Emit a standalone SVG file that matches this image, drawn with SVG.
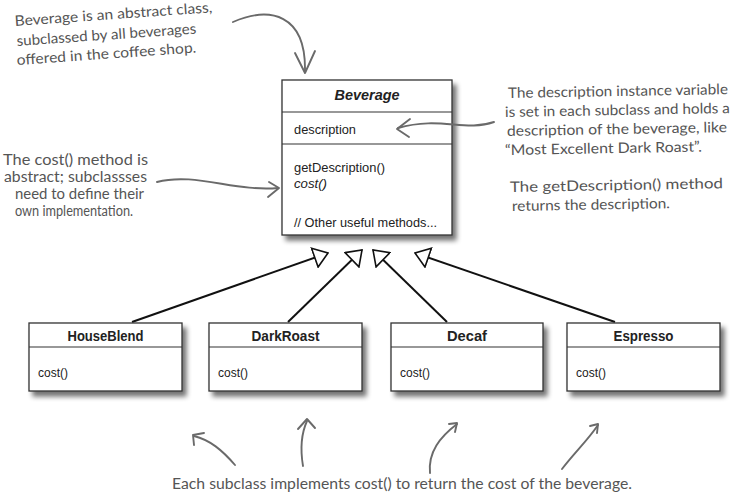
<svg xmlns="http://www.w3.org/2000/svg" width="735" height="494" viewBox="0 0 735 494">
<style>
.box{fill:#fff;stroke:#333;stroke-width:1.3}
.div{stroke:#333;stroke-width:1.2}
.t{font-family:"Liberation Sans",Arial,sans-serif;fill:#222}
.title{font-size:15.5px;font-weight:bold;text-anchor:middle}
.m{font-size:13.5px}
.hand{font-family:Lato,"DejaVu Sans",sans-serif;font-size:14.5px;fill:#555}
.ha{fill:none;stroke:#6a6a6a;stroke-width:1.9;stroke-linecap:round;stroke-linejoin:round}
.inh{stroke:#111;stroke-width:2;fill:none}
</style>
<defs>
<filter id="sh" x="-10%" y="-10%" width="125%" height="130%">
<feGaussianBlur in="SourceAlpha" stdDeviation="2.5"/>
<feOffset dx="4" dy="5" result="b"/>
<feComponentTransfer><feFuncA type="linear" slope="0.55"/></feComponentTransfer>
<feMerge><feMergeNode/><feMergeNode in="SourceGraphic"/></feMerge>
</filter>
<marker id="tri" viewBox="0 0 16 22" refX="15" refY="11" markerWidth="16" markerHeight="22" markerUnits="userSpaceOnUse" orient="auto">
<path d="M1,1 L15,11 L1,21 Z" fill="#fff" stroke="#111" stroke-width="1.6" stroke-linejoin="miter"/>
</marker>
</defs>
<rect width="735" height="494" fill="#fff"/>

<g id="connectors">
<line class="inh" x1="132" y1="322" x2="328" y2="253" marker-end="url(#tri)"/>
<line class="inh" x1="288" y1="322" x2="362" y2="250" marker-end="url(#tri)"/>
<line class="inh" x1="447" y1="322" x2="373" y2="250" marker-end="url(#tri)"/>
<line class="inh" x1="615" y1="322" x2="415" y2="253" marker-end="url(#tri)"/>
</g>

<g id="Beverage">
<rect class="box" x="282" y="80" width="170" height="155" filter="url(#sh)"/>
<line class="div" x1="282" y1="112" x2="452" y2="112"/>
<line class="div" x1="282" y1="144" x2="452" y2="144"/>
<text class="t title" x="367" y="100" font-style="italic" textLength="65" lengthAdjust="spacingAndGlyphs">Beverage</text>
<text class="t m" x="294" y="134" textLength="62" lengthAdjust="spacingAndGlyphs">description</text>
<text class="t m" x="294" y="172" textLength="91" lengthAdjust="spacingAndGlyphs">getDescription()</text>
<text class="t m" x="294" y="188" font-style="italic" textLength="33" lengthAdjust="spacingAndGlyphs">cost()</text>
<text class="t m" x="294" y="227" textLength="143" lengthAdjust="spacingAndGlyphs">// Other useful methods...</text>
</g>

<g id="HouseBlend">
<rect class="box" x="29" y="323" width="153" height="68" filter="url(#sh)"/>
<line class="div" x1="29" y1="347" x2="182" y2="347"/>
<text class="t title" x="105.5" y="341" textLength="76" lengthAdjust="spacingAndGlyphs">HouseBlend</text>
<text class="t m" x="38" y="377" textLength="30" lengthAdjust="spacingAndGlyphs">cost()</text>
</g>

<g id="DarkRoast">
<rect class="box" x="209" y="323" width="153" height="68" filter="url(#sh)"/>
<line class="div" x1="209" y1="347" x2="362" y2="347"/>
<text class="t title" x="285.5" y="341" textLength="68" lengthAdjust="spacingAndGlyphs">DarkRoast</text>
<text class="t m" x="218" y="377" textLength="30" lengthAdjust="spacingAndGlyphs">cost()</text>
</g>

<g id="Decaf">
<rect class="box" x="391" y="323" width="152" height="68" filter="url(#sh)"/>
<line class="div" x1="391" y1="347" x2="543" y2="347"/>
<text class="t title" x="467" y="341" textLength="40" lengthAdjust="spacingAndGlyphs">Decaf</text>
<text class="t m" x="400" y="377" textLength="30" lengthAdjust="spacingAndGlyphs">cost()</text>
</g>

<g id="Espresso">
<rect class="box" x="567" y="323" width="153" height="68" filter="url(#sh)"/>
<line class="div" x1="567" y1="347" x2="720" y2="347"/>
<text class="t title" x="643.5" y="341" textLength="60" lengthAdjust="spacingAndGlyphs">Espresso</text>
<text class="t m" x="576" y="377" textLength="30" lengthAdjust="spacingAndGlyphs">cost()</text>
</g>

<g id="note-abstract">
<text class="hand" x="15" y="26" transform="rotate(-4 15 26)" textLength="198" lengthAdjust="spacingAndGlyphs">Beverage is an abstract class,</text>
<text class="hand" x="17" y="46" transform="rotate(-4 17 46)" textLength="180" lengthAdjust="spacingAndGlyphs">subclassed by all beverages</text>
<text class="hand" x="17" y="65" transform="rotate(-4 17 65)" textLength="180" lengthAdjust="spacingAndGlyphs">offered in the coffee shop.</text>
<path class="ha" d="M233,22 C270,6 306,14 305,71"/>
<path class="ha" d="M295,53 L305,73 L315,51"/>
</g>

<g id="note-description">
<text class="hand" x="508" y="98" transform="rotate(-1 508 98)" textLength="220" lengthAdjust="spacingAndGlyphs">The description instance variable</text>
<text class="hand" x="505" y="117" transform="rotate(-1 505 117)" textLength="225" lengthAdjust="spacingAndGlyphs">is set in each subclass and holds a</text>
<text class="hand" x="507" y="136" transform="rotate(-1 507 136)" textLength="220" lengthAdjust="spacingAndGlyphs">description of the beverage, like</text>
<text class="hand" x="505" y="155" transform="rotate(-1 505 155)" textLength="197" lengthAdjust="spacingAndGlyphs">“Most Excellent Dark Roast”.</text>
<text class="hand" x="510" y="192" transform="rotate(-1 510 192)" textLength="213" lengthAdjust="spacingAndGlyphs">The getDescription() method</text>
<text class="hand" x="512" y="211" transform="rotate(-1 512 211)" textLength="158" lengthAdjust="spacingAndGlyphs">returns the description.</text>
<path class="ha" d="M494,122 C465,132 440,116 398,128"/>
<path class="ha" d="M410,119 L397,129 L409,137"/>
</g>

<g id="note-cost">
<text class="hand" x="3" y="165" textLength="145" lengthAdjust="spacingAndGlyphs">The cost() method is</text>
<text class="hand" x="4" y="182" textLength="143" lengthAdjust="spacingAndGlyphs">abstract; subclassses</text>
<text class="hand" x="15" y="199" textLength="129" lengthAdjust="spacingAndGlyphs">need to define their</text>
<text class="hand" x="15" y="216" textLength="118" lengthAdjust="spacingAndGlyphs">own implementation.</text>
<path class="ha" d="M157,182 C195,172 235,192 278,188"/>
<path class="ha" d="M269,182 L279,188 L268,197"/>
</g>

<g id="note-subclass">
<text class="hand" x="172" y="489" textLength="460" lengthAdjust="spacingAndGlyphs">Each subclass implements cost() to return the cost of the beverage.</text>
<path class="ha" d="M235,465 C222,450 210,440 194,436"/>
<path class="ha" d="M194,445 L193,435 L204,433"/>
<path class="ha" d="M303,466 C300,448 302,432 307,421"/>
<path class="ha" d="M298,429 L307,419 L315,428"/>
<path class="ha" d="M430,473 C428,452 440,437 457,424"/>
<path class="ha" d="M449,424 L457,423 L455,432"/>
<path class="ha" d="M562,469 C575,452 588,440 598,425"/>
<path class="ha" d="M590,426 L598,424 L597,433"/>
</g>
</svg>
